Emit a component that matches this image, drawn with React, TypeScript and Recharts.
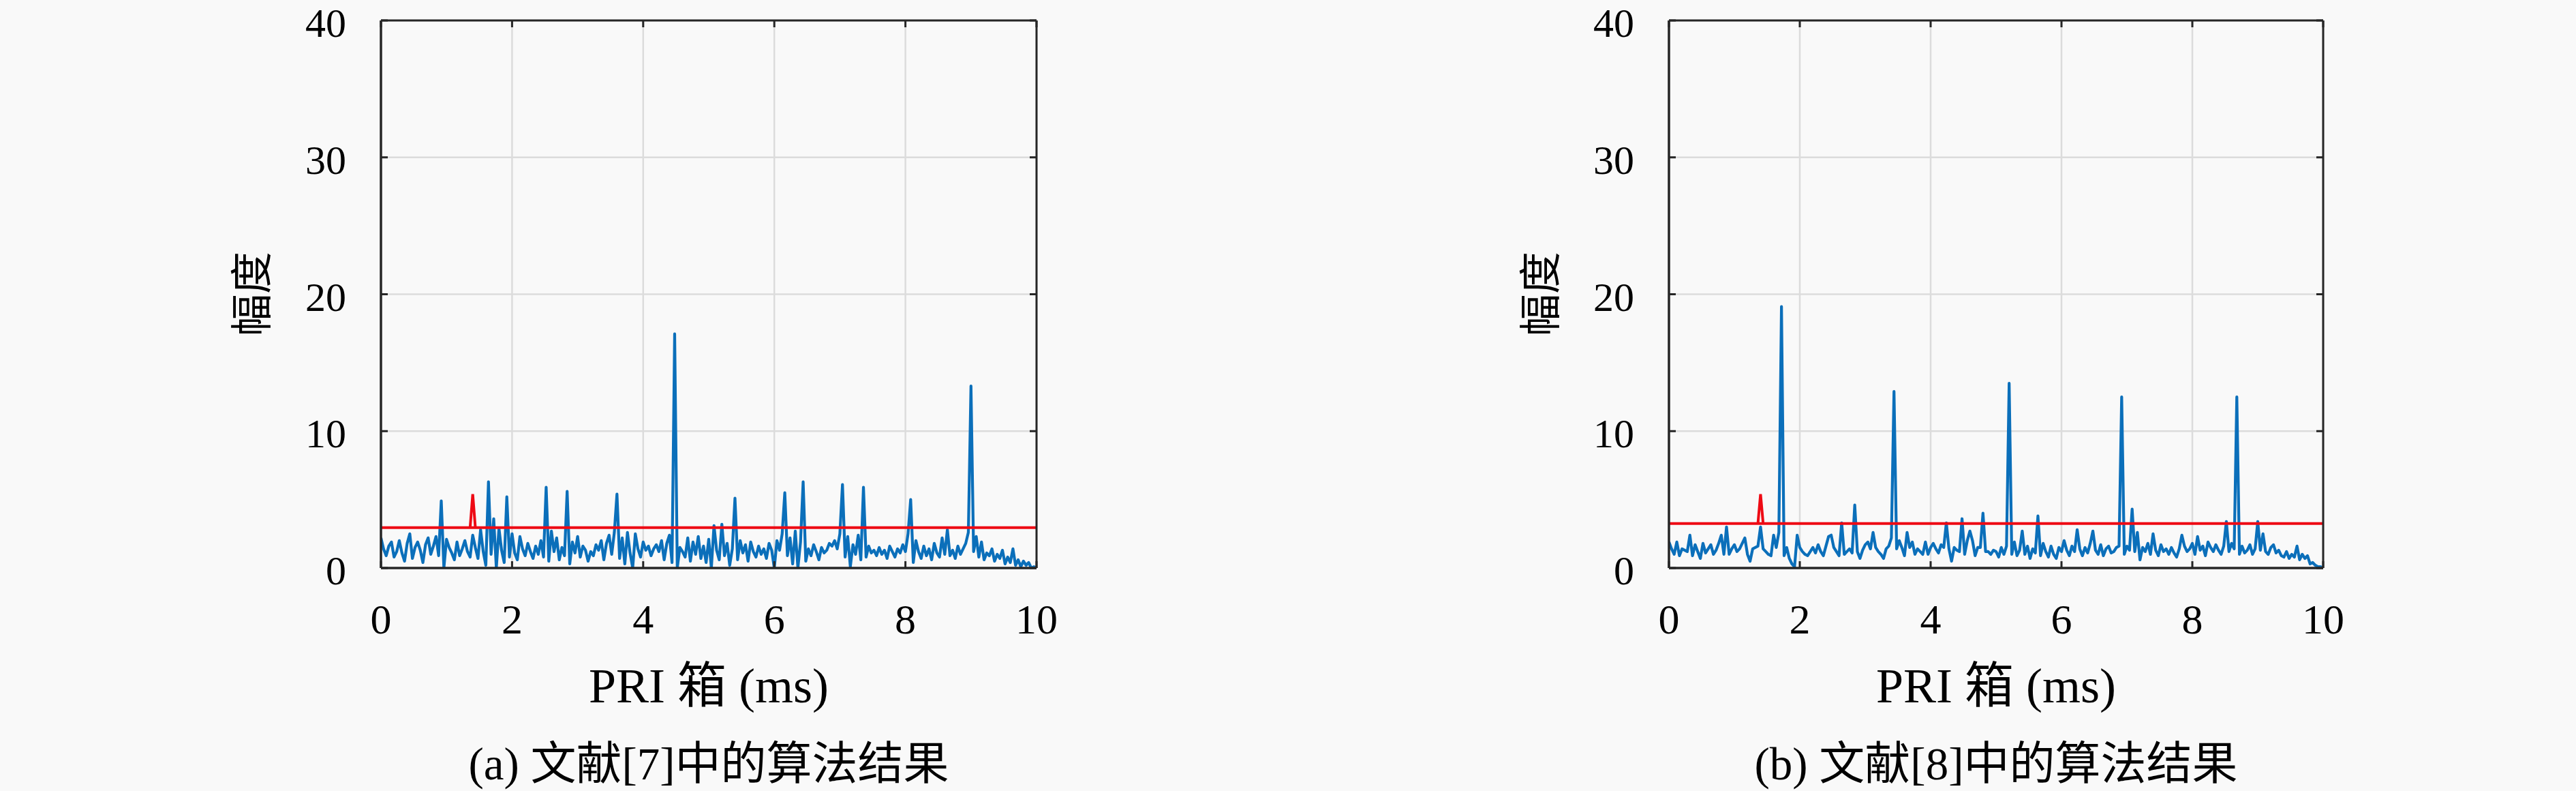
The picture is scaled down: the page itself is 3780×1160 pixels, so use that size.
import React from 'react';
import { LineChart, Line, XAxis, YAxis, CartesianGrid, ReferenceLine } from 'recharts';

// ---------------- data ----------------
const BIN_MS = 0.04; // PRI bin width (ms)
const xTicks = [0, 2, 4, 6, 8, 10];
const yTicks = [0, 10, 20, 30, 40];

// (a) amplitude per PRI bin
const ampA = [
  2.2, 1.4, 0.9, 1.6, 1.9, 0.8, 1.2, 2.0, 1.1, 0.5,
  1.8, 2.5, 0.7, 1.5, 1.9, 1.3, 0.4, 1.7, 2.2, 1.0,
  1.6, 2.3, 0.9, 4.9, 0.0, 2.1, 1.5, 1.1, 0.6, 1.9,
  0.9, 1.4, 2.0, 1.2, 0.8, 2.4, 1.5, 0.7, 2.8, 1.2,
  0.2, 6.3, 1.0, 3.6, 0.0, 2.9, 1.3, 0.4, 5.2, 0.8,
  2.5, 1.1, 0.6, 2.3, 1.4, 0.9, 1.8, 1.2, 0.7, 1.6,
  1.0, 2.0, 0.8, 5.9, 0.5, 2.7, 1.2, 2.2, 0.6, 1.5,
  0.9, 5.6, 0.3, 1.9, 1.1, 2.3, 0.8, 1.6, 1.3, 0.5,
  1.2, 0.9, 1.7, 1.3, 2.0, 0.6, 1.8, 2.4, 1.0, 2.6,
  5.4, 0.7, 2.2, 0.3, 2.6, 1.1, 0.0, 2.5, 1.4, 0.8,
  1.9, 1.3, 1.6, 0.9, 1.4, 1.7, 1.2, 2.0, 0.6, 1.8,
  2.4, 0.4, 17.1, 0.0, 1.5, 1.2, 0.8, 2.2, 0.5, 1.9,
  1.0, 2.3, 0.7, 1.6, 0.4, 2.1, 0.0, 3.1, 1.3, 0.6,
  3.2, 0.9, 1.8, 0.2, 1.4, 5.1, 0.6, 2.0, 1.1, 1.7,
  0.5, 1.9, 1.2, 0.8, 1.6, 1.0, 1.4, 0.7, 1.8, 1.3,
  0.0, 2.0, 1.3, 2.5, 5.5, 0.9, 2.2, 0.3, 2.7, 0.0,
  1.9, 6.3, 0.5, 1.4, 0.9, 1.7, 1.2, 0.6, 1.5, 1.1,
  1.3, 1.8, 1.6, 2.0, 1.4, 2.5, 6.1, 0.8, 2.3, 0.1,
  1.7, 1.0, 2.4, 0.6, 5.9, 0.8, 1.6, 1.1, 1.3, 0.9,
  1.5, 1.0, 1.3, 0.7, 1.6, 1.2, 0.8, 1.4, 1.1, 1.7,
  1.2, 2.5, 5.0, 0.4, 2.0, 1.2, 0.7, 1.6, 0.9, 1.4,
  0.6, 1.8, 1.1, 0.8, 2.2, 1.0, 2.8, 0.9, 1.3, 0.7,
  1.6, 1.0, 1.4, 1.8, 2.6, 13.3, 1.2, 2.3, 0.8, 1.9,
  0.6, 1.1, 0.9, 1.4, 0.5, 1.0, 0.7, 1.3, 0.3, 0.8,
  0.4, 1.4, 0.2, 0.6, 0.1, 0.5, 0.2, 0.4, 0.0, 0.1,
  0.0,
];

// (b) amplitude per PRI bin
const ampB = [
  1.9, 1.4, 1.0, 1.9, 0.9, 1.4, 1.3, 1.2, 2.4, 0.9,
  1.7, 1.2, 0.7, 1.8, 1.1, 1.4, 1.7, 1.0, 1.3, 1.8,
  2.4, 1.0, 3.0, 1.0, 1.4, 1.7, 1.2, 1.4, 1.8, 2.2,
  1.0, 0.5, 1.4, 1.5, 1.6, 3.0, 1.4, 1.2, 1.0, 0.9,
  2.4, 1.5, 2.6, 19.1, 0.9, 1.5, 0.7, 0.3, 0.1, 2.4,
  1.5, 1.2, 1.0, 0.9, 1.2, 1.5, 1.1, 1.7, 1.2, 0.9,
  1.6, 2.3, 2.4, 1.5, 1.2, 0.9, 3.3, 1.0, 1.2, 1.4,
  1.1, 4.6, 1.2, 0.7, 1.3, 1.7, 1.9, 1.4, 2.6, 1.5,
  1.2, 1.0, 0.7, 1.4, 1.6, 2.2, 12.9, 1.4, 2.0, 1.5,
  0.9, 2.6, 1.5, 1.9, 1.0, 1.4, 1.2, 1.0, 1.9, 1.0,
  1.5, 1.8, 1.4, 1.1, 1.7, 1.5, 3.3, 1.4, 0.5, 1.5,
  1.3, 1.2, 3.6, 1.0, 2.0, 2.7, 2.0, 0.9, 1.5, 1.5,
  4.0, 1.2, 1.2, 1.0, 1.3, 1.2, 0.8, 1.5, 1.0, 1.6,
  13.5, 1.0, 1.9, 0.9, 1.3, 2.7, 1.0, 1.6, 0.7, 1.4,
  1.1, 3.8, 0.9, 1.8, 1.2, 0.8, 1.6, 1.0, 0.7, 1.5,
  1.2, 2.0, 1.3, 0.9, 1.6, 1.2, 2.8, 1.4, 0.9, 1.5,
  1.1, 1.8, 2.7, 1.3, 1.0, 1.7, 0.9, 1.4, 1.6, 1.1,
  1.2, 1.5, 1.6, 12.5, 1.0, 1.6, 1.3, 4.3, 1.2, 2.6,
  0.6, 1.5, 1.2, 1.8, 1.0, 2.5, 1.3, 0.9, 1.7, 1.2,
  1.4, 1.0, 1.5, 1.1, 0.8, 1.4, 2.4, 1.6, 1.2, 1.4,
  1.8, 1.0, 2.3, 1.3, 1.6, 0.9, 1.9, 1.5, 1.2, 1.7,
  1.3, 1.0, 1.6, 3.4, 1.2, 1.8, 1.4, 12.5, 1.0, 1.6,
  1.1, 1.3, 1.7, 1.0, 1.4, 3.4, 1.3, 2.5, 1.2, 1.0,
  1.5, 1.7, 1.1, 1.3, 0.9, 0.8, 1.2, 0.7, 1.0, 0.8,
  1.6, 0.6, 1.0, 0.7, 0.9, 0.3, 0.4, 0.2, 0.1, 0.1,
  0.0,
];

const thresholdA = 2.95;
const thresholdB = 3.25;
const redPeakA = [
  { x: 1.36, r: 2.95 },
  { x: 1.40, r: 5.4 },
  { x: 1.44, r: 2.95 },
];
const redPeakB = [
  { x: 1.36, r: 3.25 },
  { x: 1.40, r: 5.4 },
  { x: 1.44, r: 3.25 },
];

const yLabelText = '幅度';
const xLabelText = 'PRI 箱 (ms)';
const captionA = '(a) 文献[7]中的算法结果';
const captionB = '(b) 文献[8]中的算法结果';

// ---------------- styles ----------------
const BG = '#f9f9f9';
const AXIS = '#262626';
const GRID = '#dcdcdc';
const BLUE = '#0b6fba';
const RED = '#ee0a14';
const LATIN = "'Liberation Serif', 'DejaVu Serif', serif";
const MIXED = "'Liberation Serif', 'Noto Sans CJK SC', serif";
const X_TICK_FS = 62;
const Y_TICK_FS = 60;
const TICK_LEN = 10;

const CHART_W = 1700;
const CHART_H = 1160;

const BottomTick = (props: any) => {
  const { x, y, payload } = props;
  return (
    <g>
      <line x1={x} y1={y} x2={x} y2={y - TICK_LEN} stroke={AXIS} strokeWidth={3} />
      <text x={x} y={y + 96} textAnchor="middle" fontSize={X_TICK_FS} fontFamily={LATIN} fill="#000">
        {payload.value}
      </text>
    </g>
  );
};
const LeftTick = (props: any) => {
  const { x, y, payload } = props;
  return (
    <g>
      <line x1={x} y1={y} x2={x + TICK_LEN} y2={y} stroke={AXIS} strokeWidth={3} />
      <text x={x - 51} y={y + 24} textAnchor="end" fontSize={Y_TICK_FS} fontFamily={LATIN} fill="#000">
        {payload.value}
      </text>
    </g>
  );
};
const TopTick = (props: any) => {
  const { x, y } = props;
  return <line x1={x} y1={y} x2={x} y2={y + TICK_LEN} stroke={AXIS} strokeWidth={3} />;
};
const RightTick = (props: any) => {
  const { x, y } = props;
  return <line x1={x} y1={y} x2={x - TICK_LEN} y2={y} stroke={AXIS} strokeWidth={3} />;
};

type PanelProps = {
  left: number;
  marginRight: number;
  amp: number[];
  threshold: number;
  redPeak: { x: number; r: number }[];
};

const Panel = ({ left, marginRight, amp, threshold, redPeak }: PanelProps) => {
  const rows = amp.map((v, i) => ({ x: +(i * BIN_MS).toFixed(2), v }));
  return (
    <div style={{ position: 'absolute', left, top: 0, width: CHART_W, height: CHART_H }}>
      <LineChart
        width={CHART_W}
        height={CHART_H}
        data={rows}
        margin={{ top: 29, right: marginRight, bottom: 297, left: 499 }}
      >
        <CartesianGrid stroke={GRID} strokeWidth={2.5} />
        <XAxis
          dataKey="x"
          type="number"
          domain={[0, 10]}
          ticks={xTicks}
          interval={0}
          allowDataOverflow
          height={30}
          tickSize={0}
          tickMargin={0}
          tickLine={false}
          axisLine={{ stroke: AXIS, strokeWidth: 3.5 }}
          tick={<BottomTick />}
        />
        <XAxis
          xAxisId="top"
          orientation="top"
          dataKey="x"
          type="number"
          domain={[0, 10]}
          ticks={xTicks}
          interval={0}
          allowDataOverflow
          height={1}
          tickSize={0}
          tickMargin={0}
          tickLine={false}
          axisLine={{ stroke: AXIS, strokeWidth: 3 }}
          tick={<TopTick />}
        />
        <YAxis
          type="number"
          domain={[0, 40]}
          ticks={yTicks}
          interval={0}
          allowDataOverflow
          width={60}
          tickSize={0}
          tickMargin={0}
          tickLine={false}
          axisLine={{ stroke: AXIS, strokeWidth: 3.5 }}
          tick={<LeftTick />}
        />
        <YAxis
          yAxisId="right"
          orientation="right"
          type="number"
          domain={[0, 40]}
          ticks={yTicks}
          interval={0}
          allowDataOverflow
          width={1}
          tickSize={0}
          tickMargin={0}
          tickLine={false}
          axisLine={{ stroke: AXIS, strokeWidth: 3 }}
          tick={<RightTick />}
        />
        <Line
          type="linear"
          dataKey="v"
          stroke={BLUE}
          strokeWidth={4.2}
          strokeLinejoin="round"
          dot={false}
          activeDot={false}
          isAnimationActive={false}
        />
        <ReferenceLine y={threshold} stroke={RED} strokeWidth={4} />
        <Line
          data={redPeak}
          type="linear"
          dataKey="r"
          stroke={RED}
          strokeWidth={4}
          dot={false}
          activeDot={false}
          isAnimationActive={false}
        />
      </LineChart>
    </div>
  );
};

const Labels = ({ yLabelX, centerX, caption }: { yLabelX: number; centerX: number; caption: string }) => (
  <g>
    <text
      transform={`translate(${yLabelX}, 431) rotate(-90)`}
      textAnchor="middle"
      dominantBaseline="central"
      fontSize={62}
      fontFamily="'Noto Sans CJK SC', sans-serif"
      fill="#000"
    >
      {yLabelText}
    </text>
    <text x={centerX} y={1030} textAnchor="middle" fontSize={72} fontFamily={MIXED} fill="#000">
      {xLabelText}
    </text>
    <text x={centerX} y={1143} textAnchor="middle" fontSize={67} fontFamily={MIXED} fill="#000">
      {caption}
    </text>
  </g>
);

export default function App() {
  return (
    <div
      style={{
        position: 'absolute',
        left: 0,
        top: 0,
        width: 3780,
        height: 1160,
        background: BG,
        overflow: 'hidden',
      }}
    >
      <Panel left={0} marginRight={178} amp={ampA} threshold={thresholdA} redPeak={redPeakA} />
      <Panel left={1890} marginRight={180} amp={ampB} threshold={thresholdB} redPeak={redPeakB} />
      <svg
        width={3780}
        height={1160}
        style={{ position: 'absolute', left: 0, top: 0, pointerEvents: 'none' }}
      >
        <Labels yLabelX={365} centerX={1040} caption={captionA} />
        <Labels yLabelX={2256} centerX={2929} caption={captionB} />
      </svg>
    </div>
  );
}
